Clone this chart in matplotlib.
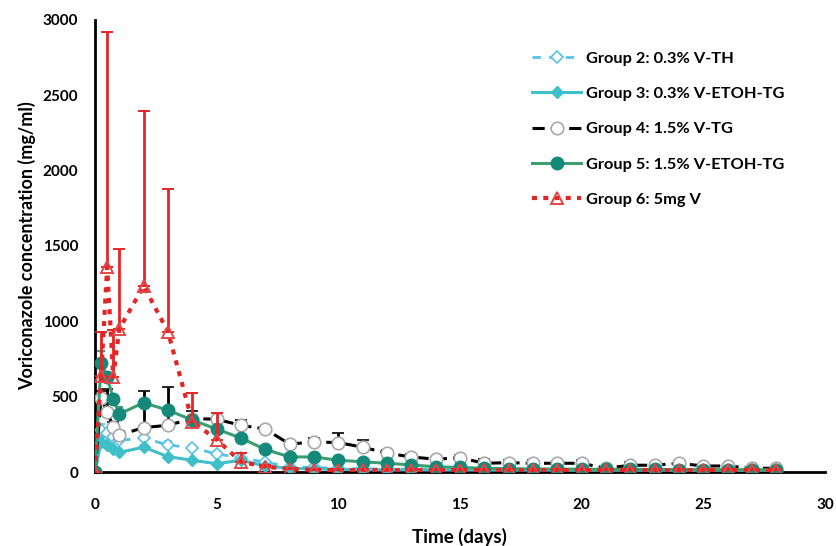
import numpy as np
import matplotlib
matplotlib.use('Agg')
from matplotlib import pyplot as plt
from matplotlib.lines import Line2D

plt.rcParams['font.family'] = ['Lato', 'DejaVu Sans']
plt.rcParams['font.weight'] = 'bold'

days = [0, 0.25, 0.5, 0.75, 1, 2, 3, 4, 5, 6, 7, 8, 9, 10, 11, 12, 13, 14,
        15, 16, 17, 18, 19, 20, 21, 22, 23, 24, 25, 26, 27, 28]

g2 = [0, 280, 260, 230, 210, 225, 180, 160, 120, 95, 65, 35, 30, 25, 22, 20,
      20, 18, 18, 18, 16, 16, 15, 15, 15, 15, 15, 14, 14, 14, 14, 14]
g2_err = [0, 40, 30, 30, 20, 30, 25, 20, 20, 15, 10, 5, 5, 5, 5, 5,
          5, 5, 5, 5, 5, 5, 5, 5, 5, 5, 5, 5, 5, 5, 5, 5]

g3 = [0, 200, 180, 150, 130, 165, 102, 78, 55, 78, 40, 25, 20, 18, 16, 15,
      15, 14, 14, 14, 13, 13, 13, 12, 12, 12, 12, 12, 12, 12, 12, 12]
g3_err = [0, 30, 15, 10, 10, 15, 10, 10, 8, 8, 5, 5, 5, 5, 5, 5,
          5, 5, 5, 5, 5, 5, 5, 5, 5, 5, 5, 5, 5, 5, 5, 5]

g4 = [0, 490, 400, 300, 245, 295, 310, 355, 350, 310, 285, 185, 200, 195, 165,
      125, 100, 85, 95, 58, 62, 58, 58, 58, 25, 45, 45, 58, 40, 40, 25, 25]
g4_err = [0, 50, 150, 30, 25, 245, 257, 50, 40, 35, 15, 16, 24, 66, 47, 21,
          19, 10, 18, 26, 18, 22, 15, 22, 5, 20, 5, 10, 5, 5, 5, 5]

g5 = [0, 725, 630, 485, 385, 460, 410, 345, 285, 225, 150, 100, 100, 78, 68,
      58, 47, 35, 30, 25, 22, 20, 20, 18, 18, 17, 17, 16, 16, 15, 15, 15]
g5_err = [0, 80, 20, 20, 45, 20, 10, 10, 10, 10, 10, 8, 8, 8, 8, 5,
          5, 5, 5, 5, 5, 5, 5, 5, 5, 5, 5, 5, 5, 5, 5, 5]

g6 = [0, 640, 1360, 630, 950, 1235, 930, 335, 215, 68, 35, 20, 15, 12, 12, 12,
      12, 12, 12, 12, 12, 12, 12, 12, 12, 12, 12, 12, 12, 12, 12, 12]
g6_err = [0, 290, 1560, 310, 530, 1160, 950, 190, 175, 55, 10, 5, 5, 5, 5, 5,
          5, 5, 5, 5, 5, 5, 5, 5, 5, 5, 5, 5, 5, 5, 5, 5]

labels = ['Group 2: 0.3% V-TH', 'Group 3: 0.3% V-ETOH-TG', 'Group 4: 1.5% V-TG',
          'Group 5: 1.5% V-ETOH-TG', 'Group 6: 5mg V']

# line / marker style per group
styles = [
    dict(color='#55C2E6', ls=(0, (3, 3)), lw=2, marker='D', ms=6.5,
         mfc='white', mec='#55C2E6', mew=1.2),
    dict(color='#3EBFC9', ls='-', lw=2.2, marker='D', ms=6.5,
         mfc='#3EBFC9', mec='#3EBFC9'),
    dict(color='black', ls=(0, (4, 2)), lw=2.2, marker='o', ms=9,
         mfc='white', mec='#A8A8A8', mew=1.2),
    dict(color='#3A9E6E', ls='-', lw=2.2, marker='o', ms=9,
         mfc='#138A7A', mec='#138A7A'),
    dict(color='#E52525', ls=(0, (1.2, 1.5)), lw=3, marker='^', ms=9,
         mfc='none', mec='#E04848', mew=1.4),
]
err_styles = [
    dict(ecolor='#55C2E6', elinewidth=1.5, capsize=3, capthick=1.5),
    dict(ecolor='#3EBFC9', elinewidth=1.5, capsize=3, capthick=1.5),
    dict(ecolor='black', elinewidth=2, capsize=4, capthick=2.5),
    dict(ecolor='#3A9E6E', elinewidth=1.5, capsize=3, capthick=1.5),
    dict(ecolor='#E52525', elinewidth=2, capsize=4, capthick=2.5),
]
series = [(g2, g2_err), (g3, g3_err), (g4, g4_err), (g5, g5_err), (g6, g6_err)]
zorders = [3, 3, 4, 5, 6]

fig = plt.figure(figsize=(8.37, 5.46), dpi=100)
ax = fig.add_axes([0.1135, 0.1355, 0.872, 0.828])

handles = []
for (vals, err), st, est, z, lab in zip(series, styles, err_styles, zorders, labels):
    ax.errorbar(days, vals, yerr=[np.zeros(len(err)), np.asarray(err)],
                zorder=z, **st, **est)
    handles.append(Line2D([], [], label=lab, **st))

ax.set_xlim(0, 30)
ax.set_ylim(0, 3000)
ax.set_xticks(range(0, 31, 5))
ax.set_yticks(range(0, 3001, 500))
ax.tick_params(length=0, labelsize=11)
ax.tick_params(axis='x', pad=19)
ax.tick_params(axis='y', pad=12)
for lab in ax.get_xticklabels() + ax.get_yticklabels():
    lab.set_fontweight('bold')
ax.spines['top'].set_visible(False)
ax.spines['right'].set_visible(False)
ax.spines['left'].set_linewidth(2)
ax.spines['bottom'].set_linewidth(2)
ax.set_xlabel('Time (days)', fontsize=13.5, fontweight='bold', labelpad=11)
ax.set_ylabel('Voriconazole concentration (mg/ml)', fontsize=13, fontweight='bold', labelpad=5)

leg = fig.legend(handles=handles, loc='upper left', bbox_to_anchor=(0.628, 0.918),
                 frameon=False, fontsize=11.8, labelspacing=1.27, handlelength=3.0,
                 handletextpad=0.3, borderaxespad=0)
for t in leg.get_texts():
    t.set_fontweight('bold')

fig.savefig('out.png', dpi=100)
